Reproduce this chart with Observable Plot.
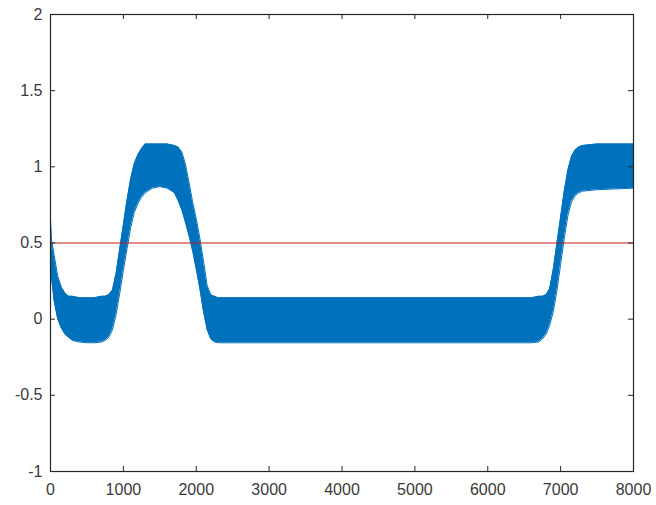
<!DOCTYPE html>
<html>
<head>
<meta charset="utf-8">
<script src="https://cdn.jsdelivr.net/npm/d3@7"></script>
<script src="https://cdn.jsdelivr.net/npm/@observablehq/plot@0.6"></script>
<style>
  html, body { margin: 0; padding: 0; background: #fff; }
  #chart svg { display: block; }
</style>
</head>
<body>
<div id="chart"></div>
<script>
// Envelope of the noisy signal
const sampleX = [0, 15, 50, 100, 150, 200, 250, 300, 400, 500, 600, 700, 750, 800, 850, 900, 950, 1000, 1050, 1100, 1150, 1200, 1250, 1300, 1400, 1500, 1600, 1700, 1750, 1800, 1850, 1900, 1950, 2000, 2050, 2100, 2150, 2200, 2250, 2300, 3000, 4000, 5000, 6000, 6600, 6700, 6750, 6800, 6850, 6900, 6950, 7000, 7050, 7100, 7150, 7200, 7250, 7300, 7500, 8000];
const upperY  = [0.65, 0.52, 0.42, 0.28, 0.21, 0.17, 0.15, 0.15, 0.14, 0.14, 0.14, 0.15, 0.15, 0.16, 0.19, 0.30, 0.46, 0.62, 0.78, 0.92, 1.02, 1.08, 1.12, 1.15, 1.15, 1.15, 1.15, 1.14, 1.13, 1.10, 1.02, 0.90, 0.77, 0.66, 0.53, 0.38, 0.22, 0.16, 0.15, 0.14, 0.14, 0.14, 0.14, 0.14, 0.14, 0.15, 0.15, 0.16, 0.20, 0.33, 0.50, 0.67, 0.84, 0.98, 1.07, 1.11, 1.13, 1.14, 1.15, 1.15];
const lowerY  = [0.35, 0.27, 0.12, 0.00, -0.06, -0.10, -0.12, -0.14, -0.15, -0.155, -0.155, -0.15, -0.14, -0.12, -0.07, 0.03, 0.17, 0.32, 0.46, 0.60, 0.70, 0.76, 0.80, 0.83, 0.86, 0.87, 0.86, 0.83, 0.78, 0.72, 0.64, 0.55, 0.45, 0.33, 0.20, 0.05, -0.07, -0.13, -0.15, -0.155, -0.155, -0.155, -0.155, -0.155, -0.155, -0.15, -0.13, -0.10, -0.04, 0.05, 0.19, 0.36, 0.53, 0.68, 0.77, 0.81, 0.83, 0.84, 0.85, 0.86];
const thresholdY = [0.5];

const xTicks = [0, 1000, 2000, 3000, 4000, 5000, 6000, 7000, 8000];
const xTickLabels = ["0", "1000", "2000", "3000", "4000", "5000", "6000", "7000", "8000"];
const yTicks = [-1, -0.5, 0, 0.5, 1, 1.5, 2];
const yTickLabels = ["-1", "-0.5", "0", "0.5", "1", "1.5", "2"];

const band = sampleX.map((x, i) => ({x, lo: lowerY[i], hi: upperY[i]}));

const W = 656, H = 505;
const mL = 50, mR = 23, mT = 14, mB = 34;
const innerW = W - mL - mR, innerH = H - mT - mB;
const tickLen = 5;
const ink = "#262626";
const labelInk = "#3a3a3a";

const chart = Plot.plot({
  width: W,
  height: H,
  marginLeft: mL,
  marginRight: mR,
  marginTop: mT,
  marginBottom: mB,
  style: {fontFamily: "Arial, 'Liberation Sans', Helvetica, sans-serif", fontSize: "16px", color: labelInk, background: "#fff"},
  x: {domain: [0, 8000], axis: null, label: null},
  y: {domain: [-1, 2], axis: null, label: null},
  marks: [
    Plot.areaY(band, {x: "x", y1: "lo", y2: "hi", fill: "#0072BD", curve: "linear"}),
    Plot.lineY(band, {x: "x", y: "hi", stroke: "#0072BD", strokeWidth: 1}),
    Plot.lineY(band, {x: "x", y: "lo", stroke: "#0072BD", strokeWidth: 1}),
    Plot.ruleY(thresholdY, {stroke: "#c41a1a", strokeWidth: 1}),
    // inward ticks on all four sides
    Plot.tickX(xTicks, {x: d => d, stroke: ink, insetTop: innerH - tickLen}),
    Plot.tickX(xTicks, {x: d => d, stroke: ink, insetBottom: innerH - tickLen}),
    Plot.tickY(yTicks, {y: d => d, stroke: ink, insetRight: innerW - tickLen}),
    Plot.tickY(yTicks, {y: d => d, stroke: ink, insetLeft: innerW - tickLen}),
    Plot.frame({stroke: ink, strokeWidth: 1.2}),
    Plot.axisX(xTicks, {anchor: "bottom", label: null, tickSize: 0, tickPadding: 12, fontSize: 16, fill: labelInk,
      tickFormat: d => xTickLabels[xTicks.indexOf(d)]}),
    Plot.axisY(yTicks, {anchor: "left", label: null, tickSize: 0, tickPadding: 8, fontSize: 16, fill: labelInk,
      tickFormat: d => yTickLabels[yTicks.indexOf(d)]})
  ]
});
document.getElementById("chart").appendChild(chart);
</script>
</body>
</html>
